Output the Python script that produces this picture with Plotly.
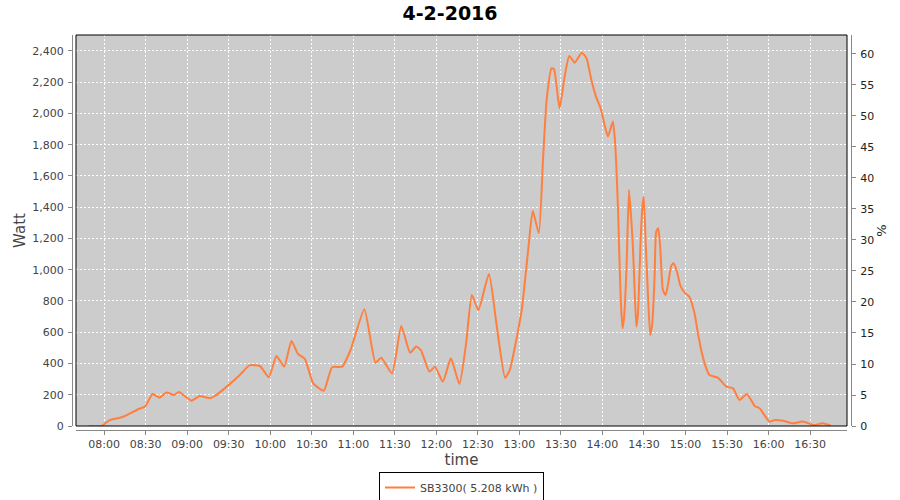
import plotly.graph_objects as go

DATE = "2016-02-04"
times = ["07:49:00", "07:58:00", "08:04:00", "08:11:30", "08:16:00", "08:25:00", "08:29:30",
         "08:35:00", "08:40:00", "08:45:00", "08:50:30", "08:54:00", "09:03:00", "09:09:00",
         "09:16:30", "09:20:00", "09:29:40", "09:38:00", "09:45:00", "09:52:30", "09:59:00",
         "10:04:30", "10:10:00", "10:15:20", "10:20:00", "10:25:00", "10:31:00", "10:38:40",
         "10:44:40", "10:52:00", "10:58:00", "11:08:00", "11:16:00", "11:20:10", "11:28:00",
         "11:34:40", "11:41:00", "11:45:30", "11:48:50", "11:55:00", "11:59:00", "12:04:40",
         "12:10:30", "12:16:40", "12:21:30", "12:25:40", "12:30:20", "12:38:00", "12:43:40",
         "12:49:40", "12:53:00", "13:01:40", "13:06:20", "13:09:40", "13:14:00", "13:17:10",
         "13:19:40", "13:23:10", "13:25:00", "13:29:00", "13:32:40", "13:36:00", "13:40:00",
         "13:45:00", "13:48:30", "13:52:00", "13:55:20", "13:58:40", "14:01:50", "14:04:00",
         "14:07:30", "14:09:00", "14:11:20", "14:12:00", "14:13:20", "14:14:30", "14:15:40",
         "14:17:20", "14:19:10", "14:21:00", "14:22:00", "14:23:20", "14:24:30", "14:25:40",
         "14:27:30", "14:28:50", "14:29:50", "14:31:20", "14:32:50", "14:34:30", "14:36:00",
         "14:37:40", "14:38:50", "14:40:20", "14:41:50", "14:43:40", "14:45:40", "14:47:30",
         "14:49:40", "14:51:20", "14:53:50", "14:56:10", "14:59:20", "15:03:00", "15:06:30",
         "15:09:00", "15:12:00", "15:15:00", "15:17:20", "15:23:20", "15:29:30", "15:34:20",
         "15:39:00", "15:44:20", "15:50:00", "15:53:30", "16:00:40", "16:04:20", "16:10:20",
         "16:17:30", "16:24:40", "16:33:00", "16:39:00", "16:45:00"]
watts = [0, 0, 38, 53, 68, 109, 124,
         205, 181, 215, 198, 218, 162, 192,
         177, 192, 260, 326, 388, 384, 312,
         448, 380, 544, 461, 430, 273, 226,
         376, 380, 486, 747, 405, 437, 337,
         640, 469, 508, 486, 348, 380, 284,
         433, 269, 529, 838, 742, 973, 636,
         309, 358, 742, 1126, 1378, 1233, 1724,
         2086, 2289, 2283, 2033, 2236, 2368, 2325,
         2389, 2353, 2214, 2108, 2033, 1916, 1852,
         1948, 1830, 1361, 1148, 785, 625, 700,
         998, 1510, 1297, 1148, 849, 636, 721,
         1169, 1403, 1468, 1148, 849, 582, 657,
         955, 1244, 1265, 1126, 870, 838, 913,
         1024, 1041, 988, 902, 853, 824, 721,
         593, 460, 369, 326, 309, 252, 241,
         166, 205, 128, 113, 28, 38, 34,
         17, 28, 6, 17, 2]

series_name = "SB3300( 5.208 kWh )"
title_text = "4-2-2016"
x_range = ["07:39:40", "16:56:40"]
watt_range = [0, 2502]
pct_range = [0, 63.06]

x = [f"{DATE} {t}" for t in times]

FONT = "DejaVu Sans"
fig = go.Figure()
fig.add_trace(go.Scatter(
    x=x, y=watts, mode="lines", name=series_name,
    line=dict(color="#FF7F3F", width=2, shape="spline", smoothing=0.5),
    hoverinfo="x+y",
))
# empty series on the percentage axis so the right axis is drawn
fig.add_trace(go.Scatter(x=[x[0]], y=[None], yaxis="y2", mode="lines",
                         showlegend=False, hoverinfo="skip"))

W, H = 900, 500
ml, mr, mt, mb = 72, 49, 35, 70
pw, ph = W - ml - mr, H - mt - mb
off = 4
xd = [off / pw, 1 - off / pw]
yd = [off / ph, 1]

grid = dict(showgrid=True, gridcolor="white", gridwidth=1, griddash="2px,2px")

fig.update_layout(
    width=W, height=H,
    margin=dict(l=ml, r=mr, t=mt, b=mb, pad=0, autoexpand=False),
    paper_bgcolor="white", plot_bgcolor="#CCCCCC",
    font=dict(family=FONT, size=11, color="#444444"),
    title=dict(text=f"<b>{title_text}</b>", x=0.5, xanchor="center",
               yref="container", y=1 - 7 / H, yanchor="top",
               font=dict(family=FONT, size=19, color="black")),
    xaxis=dict(domain=xd, anchor="free", position=0, type="date", automargin=False,
               range=[f"{DATE} {x_range[0]}", f"{DATE} {x_range[1]}"],
               dtick=30 * 60 * 1000, tick0=f"{DATE} 08:00:00", tickformat="%H:%M",
               showline=True, linecolor="#888888", linewidth=1,
               ticks="outside", ticklen=4, tickcolor="#888888", ticklabelstandoff=0,
               tickfont=dict(size=11, color="#444444"),
               title=dict(text="time", font=dict(size=15, color="#444444"), standoff=4),
               zeroline=False, **grid),
    yaxis=dict(domain=yd, anchor="free", position=0, range=watt_range, automargin=False,
               dtick=200, tickformat=",d",
               showline=True, linecolor="#888888", linewidth=1,
               ticks="outside", ticklen=4, tickcolor="#888888", ticklabelstandoff=2,
               tickfont=dict(size=11, color="#444444"),
               title=dict(text="Watt", font=dict(size=15, color="#444444"), standoff=2),
               zeroline=False, **grid),
    yaxis2=dict(domain=yd, overlaying="y", side="right", anchor="free", position=1,
                range=pct_range, dtick=5, automargin=False,
                showline=True, linecolor="#888888", linewidth=1,
                ticks="outside", ticklen=4, tickcolor="#888888", ticklabelstandoff=2,
                tickfont=dict(size=11, color="#222222"),
                title=dict(text="%", font=dict(size=13, color="#222222"), standoff=3),
                showgrid=False, zeroline=False),
    showlegend=True,
    legend=dict(orientation="h", x=0.5, xanchor="center", y=-42 / ph, yanchor="top",
                bordercolor="black", borderwidth=1, bgcolor="white",
                font=dict(size=11, color="#444444"), itemwidth=30,
                tracegroupgap=0),
    shapes=[dict(type="rect", xref="x domain", yref="y domain", x0=0, x1=1, y0=0, y1=1,
                 line=dict(color="black", width=1), fillcolor="rgba(0,0,0,0)", layer="above")],
)

fig.write_html("out.html", config={"displayModeBar": False},
               post_script="document.body.style.margin='0';")
